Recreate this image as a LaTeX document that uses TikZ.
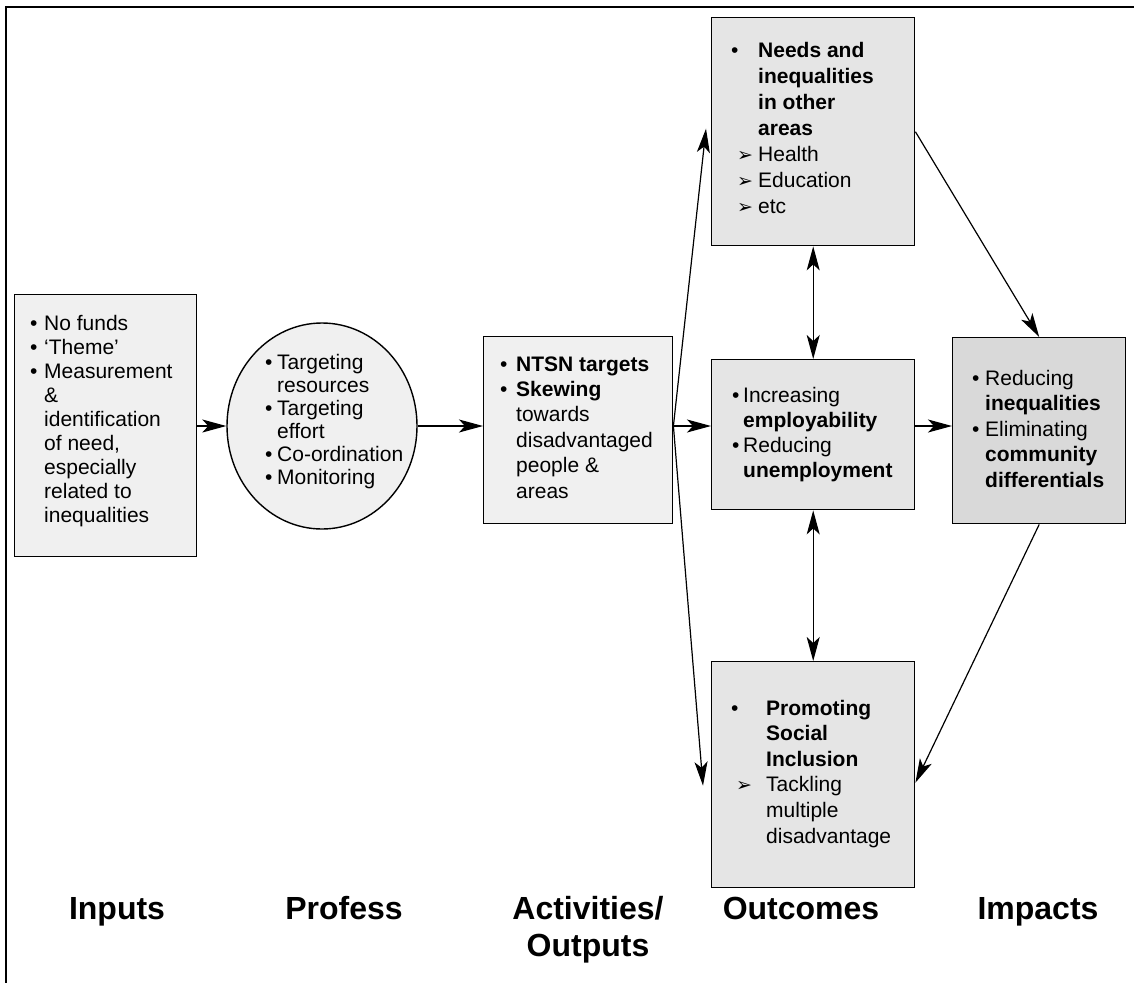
\documentclass[tikz,border=0pt]{standalone}
\usepackage{fontspec}
\setmainfont{Liberation Sans}
\newfontfamily\symfont{DejaVu Sans}
\usetikzlibrary{arrows.meta,shapes.geometric}

% list helpers: bullet column, indent, arrow-bullet column
\newcommand\bul[1]{\makebox[#1][l]{•}}
\newcommand\ind[1]{\hspace*{#1}}
\newcommand\arb[2]{\makebox[#1][l]{\hspace*{#2}{\symfont\fontsize{19}{19}\selectfont ➢}}}

\definecolor{fillA}{gray}{0.94}
\definecolor{fillB}{gray}{0.90}
\definecolor{fillC}{gray}{0.85}

\begin{document}
\begin{tikzpicture}[x=1pt,y=-1pt,
  box/.style={draw, line width=1.4pt, inner sep=0pt, anchor=north west},
  txt/.style={anchor=base west, inner sep=0pt, font=\fontsize{21}{#1}\selectfont},
  head/.style={anchor=base, inner sep=0pt, font=\fontsize{32}{37}\selectfont\bfseries},
  conn/.style={line width=1.2pt, -{Stealth[length=24pt,width=13pt,inset=6pt]}},
  both/.style={line width=1.2pt, {Stealth[length=24pt,width=13pt,inset=6pt]}-{Stealth[length=24pt,width=13pt,inset=6pt]}}
]
\useasboundingbox (0,0) rectangle (1134,983);

% outer frame (top and left rules)
\draw[line width=1.5pt] (1134,7) -- (6,7) -- (6,983);

% boxes
\node[box, fill=fillA, minimum width=182pt, minimum height=262pt] (inp) at (14,294) {};
\node[draw, line width=1.4pt, inner sep=0pt, ellipse, fill=fillA,
      minimum width=190pt, minimum height=206pt] (ell) at (322,426) {};
\node[box, fill=fillA, minimum width=189pt, minimum height=187pt] (act) at (483,336) {};
\node[box, fill=fillB, minimum width=203pt, minimum height=228pt] (top) at (711,17) {};
\node[box, fill=fillB, minimum width=203pt, minimum height=150pt] (mid) at (711,359) {};
\node[box, fill=fillB, minimum width=203pt, minimum height=226pt] (bot) at (711,661) {};
\node[box, fill=fillC, minimum width=173pt, minimum height=186pt] (imp) at (952,337) {};

% box texts
\node[txt=24] (tinp) at (30,330) {\begin{tabular}[t]{@{}l@{}}
\bul{14pt}No funds\\
\bul{14pt}‘Theme’\\
\bul{14pt}Measurement\\
\ind{14pt}\&\\
\ind{14pt}identification\\
\ind{14pt}of need,\\
\ind{14pt}especially\\
\ind{14pt}related to\\
\ind{14pt}inequalities
\end{tabular}};

\node[txt=23] (tell) at (265,369) {\begin{tabular}[t]{@{}l@{}}
\bul{12pt}Targeting\\
\ind{12pt}resources\\
\bul{12pt}Targeting\\
\ind{12pt}effort\\
\bul{12pt}Co-ordination\\
\bul{12pt}Monitoring
\end{tabular}};

\node[txt=25.4] (tact) at (500,371) {\begin{tabular}[t]{@{}l@{}}
\bul{16pt}\textbf{NTSN targets}\\
\bul{16pt}\textbf{Skewing}\\
\ind{16pt}towards\\
\ind{16pt}disadvantaged\\
\ind{16pt}people \&\\
\ind{16pt}areas
\end{tabular}};

\node[txt=26] (ttop) at (731,57) {\begin{tabular}[t]{@{}l@{}}
\bul{27pt}\textbf{Needs and}\\
\ind{27pt}\textbf{inequalities}\\
\ind{27pt}\textbf{in other}\\
\ind{27pt}\textbf{areas}\\
\arb{27pt}{6pt}Health\\
\arb{27pt}{6pt}Education\\
\arb{27pt}{6pt}etc
\end{tabular}};

\node[txt=25] (tmid) at (732,402) {\begin{tabular}[t]{@{}l@{}}
\bul{11pt}Increasing\\
\ind{11pt}\textbf{employability}\\
\bul{11pt}Reducing\\
\ind{11pt}\textbf{unemployment}
\end{tabular}};

\node[txt=25.6] (tbot) at (731,715) {\begin{tabular}[t]{@{}l@{}}
\bul{35pt}\textbf{Promoting}\\
\ind{35pt}\textbf{Social}\\
\ind{35pt}\textbf{Inclusion}\\
\arb{35pt}{5pt}Tackling\\
\ind{35pt}multiple\\
\ind{35pt}disadvantage
\end{tabular}};

\node[txt=25.5] (timp) at (972,385) {\begin{tabular}[t]{@{}l@{}}
\bul{13pt}Reducing\\
\ind{13pt}\textbf{inequalities}\\
\bul{13pt}Eliminating\\
\ind{13pt}\textbf{community}\\
\ind{13pt}\textbf{differentials}
\end{tabular}};

% connectors
\draw[conn] (inp.east |- ell.east) -- (ell.west);
\draw[conn] (ell.east) -- (ell.east -| act.west);
\draw[conn] (ell.east -| act.east) -- ([xshift=-5pt,yshift=3pt]top.west);
\draw[conn] (ell.east -| act.east) -- (ell.east -| mid.west);
\draw[conn] (ell.east -| act.east) -- ([xshift=-8pt,yshift=-11pt]bot.west);
\draw[both] (top.south) -- (mid.north);
\draw[both] (mid.south) -- (bot.north);
\draw[conn] (ell.east -| mid.east) -- (ell.east -| imp.west);
\draw[conn] (top.east) -- (imp.north);
\draw[conn] (imp.south) -- ([yshift=-8pt]bot.east);

% column headings
\node[head] (h1) at (117,919) {Inputs};
\node[head] (h2) at (344,919) {Profess};
\node[head] (h3) at (588,919) {\begin{tabular}[t]{@{}c@{}}Activities/\\Outputs\end{tabular}};
\node[head] (h4) at (801,919) {Outcomes};
\node[head] (h5) at (1038,919) {Impacts};
\end{tikzpicture}
\end{document}
